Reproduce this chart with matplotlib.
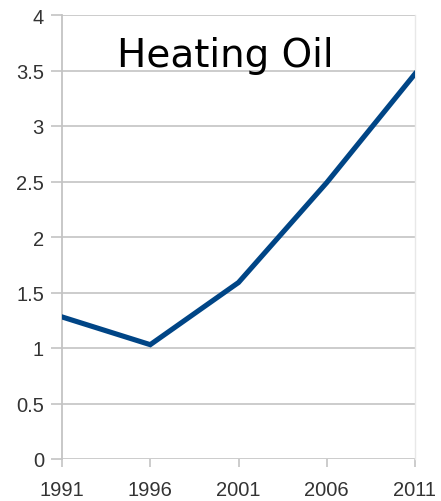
import matplotlib.pyplot as plt

# data
years = ['1991', '1996', '2001', '2006', '2011']
price = [1.28, 1.03, 1.59, 2.49, 3.47]
yticks = [0, 0.5, 1, 1.5, 2, 2.5, 3, 3.5, 4]
ylabels = ['0', '0.5', '1', '1.5', '2', '2.5', '3', '3.5', '4']

grid = '#c4c4c4'

fig = plt.figure(figsize=(4.41, 5.02), dpi=100)
ax = fig.add_axes([62/441, 42/502, 353/441, 444/502])

x = list(range(len(years)))
ax.plot(x, price, color='#004586', lw=3.7, solid_joinstyle='miter', zorder=3)

ax.set_xlim(0, len(years)-1)
ax.set_ylim(0, 4)
ax.set_xticks(x)
ax.set_xticklabels(years, family='Liberation Sans')
ax.set_yticks(yticks)
ax.set_yticklabels(ylabels, family='Liberation Sans')
ax.grid(axis='y', color=grid, lw=1.2)

for s in ['top', 'bottom']:
    ax.spines[s].set_visible(False)
ax.spines['left'].set_color(grid)
ax.spines['left'].set_linewidth(1.3)
ax.spines['right'].set_color('#e8e8e8')
ax.spines['right'].set_linewidth(1)

ax.tick_params(axis='y', length=8, width=1.2, color=grid, labelsize=14.5, labelcolor='#333333', pad=5)
ax.tick_params(axis='x', length=6, width=1.2, color=grid, labelsize=14.5, labelcolor='#333333', pad=9)
for lab in ax.get_xticklabels():
    lab.set_clip_on(False)

# title sits inside the plot area
ax.text(1.853, 3.54, 'Heating Oil', fontsize=28, ha='center', va='baseline', color='black')

fig.savefig('out.png', dpi=100)
